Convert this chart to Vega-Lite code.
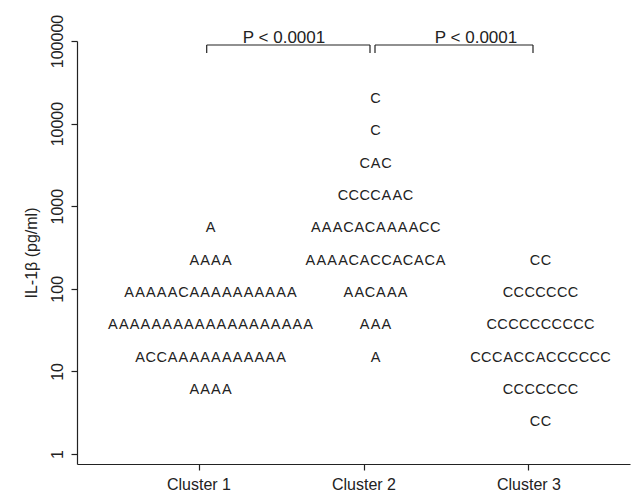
{
  "$schema": "https://vega.github.io/schema/vega-lite/v6.json",
  "width": 553,
  "height": 423,
  "autosize": {"type": "none"},
  "padding": {"left": 77, "top": 41, "right": 9, "bottom": 28},
  "background": "white",
  "config": {
    "view": {"stroke": null},
    "font": "Liberation Sans",
    "axis": {"grid": false, "domainColor": "#222", "tickColor": "#222", "labelColor": "#222", "titleColor": "#222", "domainWidth": 1.2, "tickWidth": 1.2, "labelFont": "Liberation Sans", "titleFont": "Liberation Sans", "titleFontWeight": "normal"}
  },
  "datasets": {
    "letters": [
      {"c":"Cluster 1","v":539,"s":0,"l":"A"},
      {"c":"Cluster 1","v":218,"s":-1.5,"l":"A"},{"c":"Cluster 1","v":218,"s":-0.5,"l":"A"},{"c":"Cluster 1","v":218,"s":0.5,"l":"A"},{"c":"Cluster 1","v":218,"s":1.5,"l":"A"},
      {"c":"Cluster 1","v":88.7,"s":-7.5,"l":"A"},{"c":"Cluster 1","v":88.7,"s":-6.5,"l":"A"},{"c":"Cluster 1","v":88.7,"s":-5.5,"l":"A"},{"c":"Cluster 1","v":88.7,"s":-4.5,"l":"A"},{"c":"Cluster 1","v":88.7,"s":-3.5,"l":"A"},{"c":"Cluster 1","v":88.7,"s":-2.5,"l":"C"},{"c":"Cluster 1","v":88.7,"s":-1.5,"l":"A"},{"c":"Cluster 1","v":88.7,"s":-0.5,"l":"A"},{"c":"Cluster 1","v":88.7,"s":0.5,"l":"A"},{"c":"Cluster 1","v":88.7,"s":1.5,"l":"A"},{"c":"Cluster 1","v":88.7,"s":2.5,"l":"A"},{"c":"Cluster 1","v":88.7,"s":3.5,"l":"A"},{"c":"Cluster 1","v":88.7,"s":4.5,"l":"A"},{"c":"Cluster 1","v":88.7,"s":5.5,"l":"A"},{"c":"Cluster 1","v":88.7,"s":6.5,"l":"A"},{"c":"Cluster 1","v":88.7,"s":7.5,"l":"A"},
      {"c":"Cluster 1","v":36,"s":-9,"l":"A"},{"c":"Cluster 1","v":36,"s":-8,"l":"A"},{"c":"Cluster 1","v":36,"s":-7,"l":"A"},{"c":"Cluster 1","v":36,"s":-6,"l":"A"},{"c":"Cluster 1","v":36,"s":-5,"l":"A"},{"c":"Cluster 1","v":36,"s":-4,"l":"A"},{"c":"Cluster 1","v":36,"s":-3,"l":"A"},{"c":"Cluster 1","v":36,"s":-2,"l":"A"},{"c":"Cluster 1","v":36,"s":-1,"l":"A"},{"c":"Cluster 1","v":36,"s":0,"l":"A"},{"c":"Cluster 1","v":36,"s":1,"l":"A"},{"c":"Cluster 1","v":36,"s":2,"l":"A"},{"c":"Cluster 1","v":36,"s":3,"l":"A"},{"c":"Cluster 1","v":36,"s":4,"l":"A"},{"c":"Cluster 1","v":36,"s":5,"l":"A"},{"c":"Cluster 1","v":36,"s":6,"l":"A"},{"c":"Cluster 1","v":36,"s":7,"l":"A"},{"c":"Cluster 1","v":36,"s":8,"l":"A"},{"c":"Cluster 1","v":36,"s":9,"l":"A"},
      {"c":"Cluster 1","v":14.6,"s":-6.5,"l":"A"},{"c":"Cluster 1","v":14.6,"s":-5.5,"l":"C"},{"c":"Cluster 1","v":14.6,"s":-4.5,"l":"C"},{"c":"Cluster 1","v":14.6,"s":-3.5,"l":"A"},{"c":"Cluster 1","v":14.6,"s":-2.5,"l":"A"},{"c":"Cluster 1","v":14.6,"s":-1.5,"l":"A"},{"c":"Cluster 1","v":14.6,"s":-0.5,"l":"A"},{"c":"Cluster 1","v":14.6,"s":0.5,"l":"A"},{"c":"Cluster 1","v":14.6,"s":1.5,"l":"A"},{"c":"Cluster 1","v":14.6,"s":2.5,"l":"A"},{"c":"Cluster 1","v":14.6,"s":3.5,"l":"A"},{"c":"Cluster 1","v":14.6,"s":4.5,"l":"A"},{"c":"Cluster 1","v":14.6,"s":5.5,"l":"A"},{"c":"Cluster 1","v":14.6,"s":6.5,"l":"A"},
      {"c":"Cluster 1","v":5.92,"s":-1.5,"l":"A"},{"c":"Cluster 1","v":5.92,"s":-0.5,"l":"A"},{"c":"Cluster 1","v":5.92,"s":0.5,"l":"A"},{"c":"Cluster 1","v":5.92,"s":1.5,"l":"A"},

      {"c":"Cluster 2","v":19860,"s":0,"l":"C"},
      {"c":"Cluster 2","v":8050,"s":0,"l":"C"},
      {"c":"Cluster 2","v":3270,"s":-1,"l":"C"},{"c":"Cluster 2","v":3270,"s":0,"l":"A"},{"c":"Cluster 2","v":3270,"s":1,"l":"C"},
      {"c":"Cluster 2","v":1325,"s":-3,"l":"C"},{"c":"Cluster 2","v":1325,"s":-2,"l":"C"},{"c":"Cluster 2","v":1325,"s":-1,"l":"C"},{"c":"Cluster 2","v":1325,"s":0,"l":"C"},{"c":"Cluster 2","v":1325,"s":1,"l":"A"},{"c":"Cluster 2","v":1325,"s":2,"l":"A"},{"c":"Cluster 2","v":1325,"s":3,"l":"C"},
      {"c":"Cluster 2","v":539,"s":-5.5,"l":"A"},{"c":"Cluster 2","v":539,"s":-4.5,"l":"A"},{"c":"Cluster 2","v":539,"s":-3.5,"l":"A"},{"c":"Cluster 2","v":539,"s":-2.5,"l":"C"},{"c":"Cluster 2","v":539,"s":-1.5,"l":"A"},{"c":"Cluster 2","v":539,"s":-0.5,"l":"C"},{"c":"Cluster 2","v":539,"s":0.5,"l":"A"},{"c":"Cluster 2","v":539,"s":1.5,"l":"A"},{"c":"Cluster 2","v":539,"s":2.5,"l":"A"},{"c":"Cluster 2","v":539,"s":3.5,"l":"A"},{"c":"Cluster 2","v":539,"s":4.5,"l":"C"},{"c":"Cluster 2","v":539,"s":5.5,"l":"C"},
      {"c":"Cluster 2","v":218,"s":-6,"l":"A"},{"c":"Cluster 2","v":218,"s":-5,"l":"A"},{"c":"Cluster 2","v":218,"s":-4,"l":"A"},{"c":"Cluster 2","v":218,"s":-3,"l":"A"},{"c":"Cluster 2","v":218,"s":-2,"l":"C"},{"c":"Cluster 2","v":218,"s":-1,"l":"A"},{"c":"Cluster 2","v":218,"s":0,"l":"C"},{"c":"Cluster 2","v":218,"s":1,"l":"C"},{"c":"Cluster 2","v":218,"s":2,"l":"A"},{"c":"Cluster 2","v":218,"s":3,"l":"C"},{"c":"Cluster 2","v":218,"s":4,"l":"A"},{"c":"Cluster 2","v":218,"s":5,"l":"C"},{"c":"Cluster 2","v":218,"s":6,"l":"A"},
      {"c":"Cluster 2","v":88.7,"s":-2.5,"l":"A"},{"c":"Cluster 2","v":88.7,"s":-1.5,"l":"A"},{"c":"Cluster 2","v":88.7,"s":-0.5,"l":"C"},{"c":"Cluster 2","v":88.7,"s":0.5,"l":"A"},{"c":"Cluster 2","v":88.7,"s":1.5,"l":"A"},{"c":"Cluster 2","v":88.7,"s":2.5,"l":"A"},
      {"c":"Cluster 2","v":36,"s":-1,"l":"A"},{"c":"Cluster 2","v":36,"s":0,"l":"A"},{"c":"Cluster 2","v":36,"s":1,"l":"A"},
      {"c":"Cluster 2","v":14.6,"s":0,"l":"A"},

      {"c":"Cluster 3","v":218,"s":-0.5,"l":"C"},{"c":"Cluster 3","v":218,"s":0.5,"l":"C"},
      {"c":"Cluster 3","v":88.7,"s":-3,"l":"C"},{"c":"Cluster 3","v":88.7,"s":-2,"l":"C"},{"c":"Cluster 3","v":88.7,"s":-1,"l":"C"},{"c":"Cluster 3","v":88.7,"s":0,"l":"C"},{"c":"Cluster 3","v":88.7,"s":1,"l":"C"},{"c":"Cluster 3","v":88.7,"s":2,"l":"C"},{"c":"Cluster 3","v":88.7,"s":3,"l":"C"},
      {"c":"Cluster 3","v":36,"s":-4.5,"l":"C"},{"c":"Cluster 3","v":36,"s":-3.5,"l":"C"},{"c":"Cluster 3","v":36,"s":-2.5,"l":"C"},{"c":"Cluster 3","v":36,"s":-1.5,"l":"C"},{"c":"Cluster 3","v":36,"s":-0.5,"l":"C"},{"c":"Cluster 3","v":36,"s":0.5,"l":"C"},{"c":"Cluster 3","v":36,"s":1.5,"l":"C"},{"c":"Cluster 3","v":36,"s":2.5,"l":"C"},{"c":"Cluster 3","v":36,"s":3.5,"l":"C"},{"c":"Cluster 3","v":36,"s":4.5,"l":"C"},
      {"c":"Cluster 3","v":14.6,"s":-6,"l":"C"},{"c":"Cluster 3","v":14.6,"s":-5,"l":"C"},{"c":"Cluster 3","v":14.6,"s":-4,"l":"C"},{"c":"Cluster 3","v":14.6,"s":-3,"l":"A"},{"c":"Cluster 3","v":14.6,"s":-2,"l":"C"},{"c":"Cluster 3","v":14.6,"s":-1,"l":"C"},{"c":"Cluster 3","v":14.6,"s":0,"l":"A"},{"c":"Cluster 3","v":14.6,"s":1,"l":"C"},{"c":"Cluster 3","v":14.6,"s":2,"l":"C"},{"c":"Cluster 3","v":14.6,"s":3,"l":"C"},{"c":"Cluster 3","v":14.6,"s":4,"l":"C"},{"c":"Cluster 3","v":14.6,"s":5,"l":"C"},{"c":"Cluster 3","v":14.6,"s":6,"l":"C"},
      {"c":"Cluster 3","v":5.92,"s":-3,"l":"C"},{"c":"Cluster 3","v":5.92,"s":-2,"l":"C"},{"c":"Cluster 3","v":5.92,"s":-1,"l":"C"},{"c":"Cluster 3","v":5.92,"s":0,"l":"C"},{"c":"Cluster 3","v":5.92,"s":1,"l":"C"},{"c":"Cluster 3","v":5.92,"s":2,"l":"C"},{"c":"Cluster 3","v":5.92,"s":3,"l":"C"},
      {"c":"Cluster 3","v":2.41,"s":-0.5,"l":"C"},{"c":"Cluster 3","v":2.41,"s":0.5,"l":"C"}
    ],
    "b1": [{"from": "Cluster 1", "to": "Cluster 2", "label": "P < 0.0001", "top": 89500, "bottom": 71600, "ly": 110000}],
    "b2": [{"from": "Cluster 2", "to": "Cluster 3", "label": "P < 0.0001", "top": 89500, "bottom": 71600, "ly": 110000}]
  },
  "encoding": {
    "x": {"field": "c", "type": "nominal", "sort": ["Cluster 1", "Cluster 2", "Cluster 3"],
      "scale": {"domain": ["Cluster 1", "Cluster 2", "Cluster 3"], "paddingInner": 0, "paddingOuter": 0.1758, "align": 0.681},
      "axis": {"title": null, "labelAngle": 0, "labelFontSize": 16, "tickSize": 6, "labelPadding": 6, "bandPosition": 0.5}},
    "y": {"field": "v", "type": "quantitative",
      "scale": {"type": "log", "domain": [0.757, 100000], "nice": false},
      "axis": {"title": "IL-1β (pg/ml)", "titleFontSize": 16, "titlePadding": 10, "values": [1, 10, 100, 1000, 10000, 100000], "format": "d", "labelAngle": 270, "labelAlign": "center", "labelBaseline": "bottom", "labelFontSize": 16, "tickSize": 6, "labelPadding": 6}}
  },
  "layer": [
    {
      "data": {"name": "letters"},
      "mark": {"type": "text", "fontSize": 14.5, "font": "Liberation Sans", "color": "#222", "baseline": "middle", "align": "center"},
      "encoding": {
        "xOffset": {"field": "s", "type": "quantitative", "scale": {"domain": [-8.665, 6.543], "nice": false, "zero": false}},
        "text": {"field": "l", "type": "nominal"}
      }
    },
    {
      "data": {"name": "b1"},
      "mark": {"type": "rule", "color": "#222", "strokeWidth": 1.2, "xOffset": 7.7, "x2Offset": 6},
      "encoding": {"x": {"field": "from", "type": "nominal"}, "x2": {"field": "to"}, "y": {"field": "top", "type": "quantitative"}}
    },
    {
      "data": {"name": "b1"},
      "mark": {"type": "rule", "color": "#222", "strokeWidth": 1.2, "xOffset": 7.7},
      "encoding": {"x": {"field": "from", "type": "nominal"}, "y": {"field": "top", "type": "quantitative"}, "y2": {"field": "bottom"}}
    },
    {
      "data": {"name": "b1"},
      "mark": {"type": "rule", "color": "#222", "strokeWidth": 1.2, "xOffset": 6},
      "encoding": {"x": {"field": "to", "type": "nominal"}, "y": {"field": "top", "type": "quantitative"}, "y2": {"field": "bottom"}}
    },
    {
      "data": {"name": "b1"},
      "mark": {"type": "text", "fontSize": 17, "font": "Liberation Sans", "color": "#222", "baseline": "middle", "align": "center", "dx": 85},
      "encoding": {"x": {"field": "from", "type": "nominal"}, "y": {"field": "ly", "type": "quantitative"}, "text": {"field": "label"}}
    },
    {
      "data": {"name": "b2"},
      "mark": {"type": "rule", "color": "#222", "strokeWidth": 1.2, "xOffset": 11, "x2Offset": 4},
      "encoding": {"x": {"field": "from", "type": "nominal"}, "x2": {"field": "to"}, "y": {"field": "top", "type": "quantitative"}}
    },
    {
      "data": {"name": "b2"},
      "mark": {"type": "rule", "color": "#222", "strokeWidth": 1.2, "xOffset": 11},
      "encoding": {"x": {"field": "from", "type": "nominal"}, "y": {"field": "top", "type": "quantitative"}, "y2": {"field": "bottom"}}
    },
    {
      "data": {"name": "b2"},
      "mark": {"type": "rule", "color": "#222", "strokeWidth": 1.2, "xOffset": 4},
      "encoding": {"x": {"field": "to", "type": "nominal"}, "y": {"field": "top", "type": "quantitative"}, "y2": {"field": "bottom"}}
    },
    {
      "data": {"name": "b2"},
      "mark": {"type": "text", "fontSize": 17, "font": "Liberation Sans", "color": "#222", "baseline": "middle", "align": "center", "dx": 112},
      "encoding": {"x": {"field": "from", "type": "nominal"}, "y": {"field": "ly", "type": "quantitative"}, "text": {"field": "label"}}
    }
  ]
}
